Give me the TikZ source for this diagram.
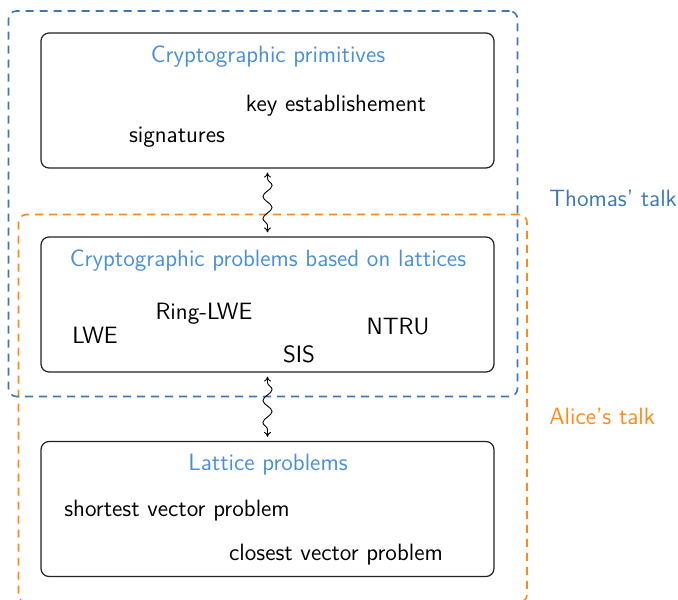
\documentclass[tikz,border=0pt]{standalone}
\usetikzlibrary{decorations.pathmorphing,arrows.meta}
\definecolor{tblue}{HTML}{3D78B4}
\definecolor{ttitle}{HTML}{4A90D9}
\definecolor{torange}{HTML}{FF8A1C}
\definecolor{boxline}{HTML}{222222}
\begin{document}
\begin{tikzpicture}[x=0.5pt,y=-0.5pt,
  every node/.style={font=\sffamily\fontsize{11.8}{14}\selectfont},
  bigbox/.style={draw=boxline,line width=0.6pt,rounded corners=4pt,minimum width=226.5pt,minimum height=67.5pt,inner sep=0pt},
  talkbox/.style={draw=#1,line width=0.8pt,dash pattern=on 4pt off 3pt,rounded corners=4pt,inner sep=0pt},
  title/.style={text=ttitle},
  item/.style={text=black},
  talklabel/.style={anchor=west,inner sep=0pt},
  wavy/.style={{To[length=2.5pt,width=3.5pt]}-{To[length=2.5pt,width=3.5pt]},line width=0.45pt,
    decorate,decoration={snake,amplitude=2.3pt,segment length=11pt,pre length=3pt,post length=3pt}}]
\useasboundingbox (0,0) rectangle (678,599);
% talk frames
\node[talkbox=torange,minimum width=254.25pt,minimum height=194pt] (alice) at (272.75,408.5) {};
\node[talkbox=tblue,minimum width=254.5pt,minimum height=192.75pt] (thomas) at (263,203.75) {};
\node[talklabel,text=tblue] (thomaslbl) at (549,198) {Thomas' talk};
\node[talklabel,text=torange] (alicelbl) at (549,416) {Alice's talk};
% boxes
\node[bigbox] (b1) at (267.5,100.5) {};
\node[bigbox] (b2) at (267.5,304.5) {};
\node[bigbox] (b3) at (267.5,509) {};
% box 1
\node[title] (t1) at (268,57) {Cryptographic primitives};
\node[item] (ke) at (336,106) {key establishement};
\node[item] (sig) at (177,137) {signatures};
% box 2
\node[title] (t2) at (268,261) {Cryptographic problems based on lattices};
\node[item] (rlwe) at (204,314) {Ring-LWE};
\node[item] (lwe) at (95,335) {LWE};
\node[item] (sis) at (299,354) {SIS};
\node[item] (ntru) at (398,327) {NTRU};
% box 3
\node[title] (t3) at (268,465) {Lattice problems};
\node[item] (svp) at (177,511) {shortest vector problem};
\node[item] (cvp) at (336,555) {closest vector problem};
% wavy connectors
\draw[wavy] ([yshift=-2pt]b1.south) -- ([yshift=2pt]b2.north);
\draw[wavy] ([yshift=-2pt]b2.south) -- ([yshift=2pt]b3.north);
\end{tikzpicture}
\end{document}
